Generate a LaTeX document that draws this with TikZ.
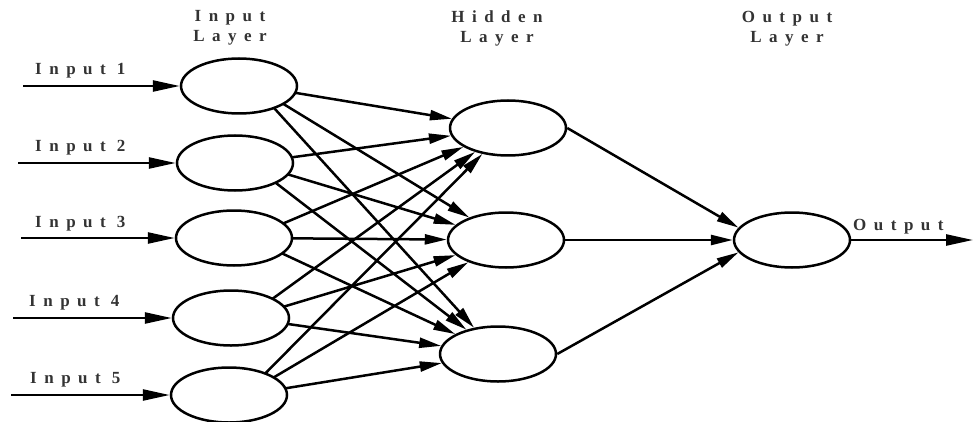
\documentclass[tikz,border=0pt]{standalone}
\usepackage{fontspec}
\setmainfont{Liberation Serif}
\usetikzlibrary{arrows.meta,shapes.geometric,backgrounds}
\newlength\lspgap
\setlength\lspgap{7.5pt}
\makeatletter
\def\lsptext#1{\lsp@first#1\relax}
\def\lsp@first#1{#1\lsp@rest}
\def\lsp@rest#1{\ifx#1\relax\else\kern\lspgap#1\expandafter\lsp@rest\fi}
\makeatother
\begin{document}
\begin{tikzpicture}[x=1pt,y=-1pt,
  neuron/.style={draw, fill=white, ellipse, line width=2.5pt, minimum width=116pt, minimum height=55pt, inner sep=0pt},
  conn/.style={line width=2.5pt, -{Triangle[length=22pt,width=10pt]}},
  inarrow/.style={line width=2.5pt, -{Triangle[length=27pt,width=11pt]}},
  lbl/.style={font=\fontsize{17pt}{19pt}\selectfont\bfseries, text=black!80, inner sep=0pt}]
\useasboundingbox (0,0) rectangle (973,422);
% headings
\node[lbl, anchor=base] (hin1) at (230,22) {\lsptext{Input}};
\node[lbl, anchor=base] (hin2) at (230,42) {\lsptext{Layer}};
\node[lbl, anchor=base] (hhid1) at (497,23) {\lsptext{Hidden}};
\node[lbl, anchor=base] (hhid2) at (497,43) {\lsptext{Layer}};
\node[lbl, anchor=base] (hout1) at (787,23) {\lsptext{Output}};
\node[lbl, anchor=base] (hout2) at (787,43) {\lsptext{Layer}};
% neurons
\node[neuron] (in1) at (239,86) {};
\node[neuron] (in2) at (235,163) {};
\node[neuron] (in3) at (234,238) {};
\node[neuron] (in4) at (231,318) {};
\node[neuron] (in5) at (229,395) {};
\node[neuron] (h1) at (508,128) {};
\node[neuron] (h2) at (506,240) {};
\node[neuron] (h3) at (498,354) {};
\node[neuron] (o) at (792,240) {};
% input labels
\node[lbl, anchor=base west] (l1) at (35,75) {\lsptext{Input}\hspace{11pt}1};
\node[lbl, anchor=base west] (l2) at (35,152) {\lsptext{Input}\hspace{11pt}2};
\node[lbl, anchor=base west] (l3) at (35,227) {\lsptext{Input}\hspace{11pt}3};
\node[lbl, anchor=base west] (l4) at (29,306) {\lsptext{Input}\hspace{11pt}4};
\node[lbl, anchor=base west] (l5) at (30,383) {\lsptext{Input}\hspace{11pt}5};
\node[lbl, anchor=base west] (lo) at (853,230) {\lsptext{Output}};
% input arrows
\coordinate (s1) at (23,86);
\coordinate (s2) at (18,163);
\coordinate (s3) at (21,238);
\coordinate (s4) at (13,318);
\coordinate (s5) at (11,395);
\foreach \i in {1,...,5} \draw[inarrow] (s\i) -- (in\i);
% input to hidden (drawn behind the filled neurons)
\begin{scope}[on background layer]
\foreach \i in {1,...,5}
  \foreach \j in {1,2,3}
    \draw[conn] ([xshift=15pt]in\i.center) -- (h\j);
\end{scope}
% hidden to output
\draw[conn] (h1.east) -- (o.167);
\draw[conn] (h2.east) -- (o.west);
\draw[conn] (h3.east) -- (o.193);
\coordinate (oe) at (973,240);
\draw[inarrow] (o.east) -- (oe);
\end{tikzpicture}
\end{document}
